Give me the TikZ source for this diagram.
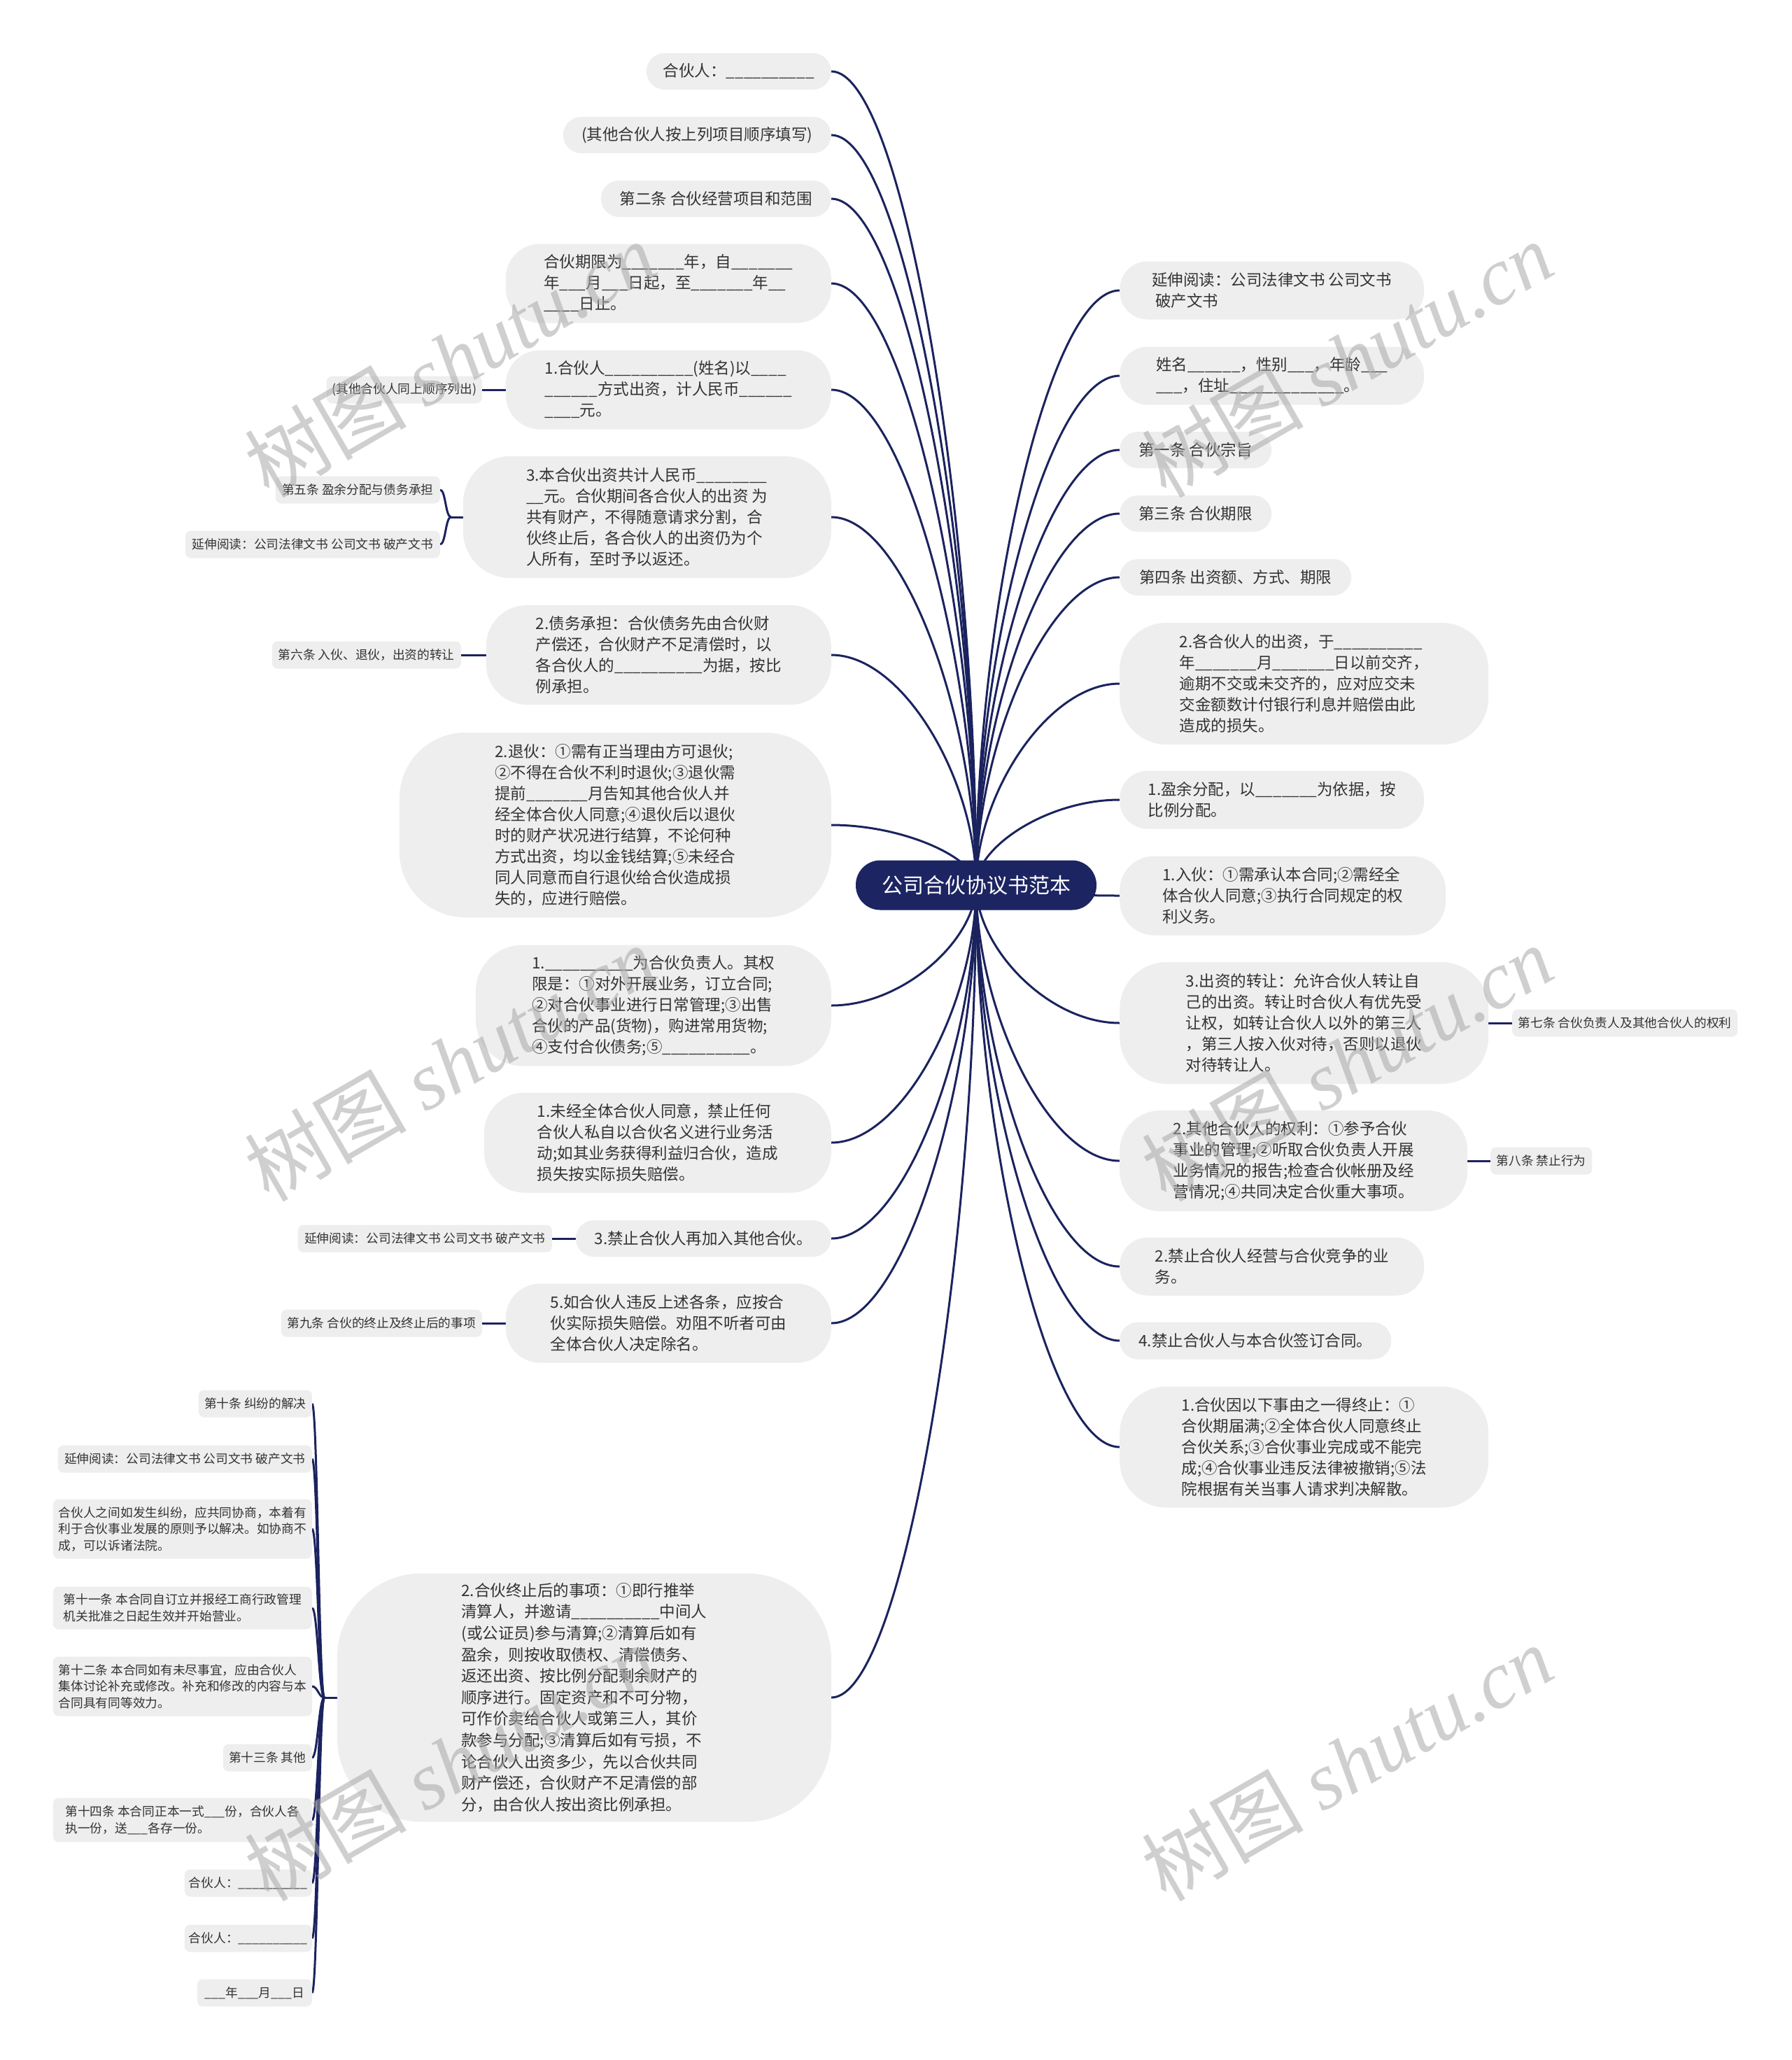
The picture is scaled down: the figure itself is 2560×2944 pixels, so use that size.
\documentclass[tikz,border=0pt]{standalone}
\usepackage{fontspec}
\setmainfont{Noto Sans CJK SC}
\newfontfamily\wmserif{Liberation Serif}
\usetikzlibrary{calc}
\pgfdeclarelayer{back}
\pgfdeclarelayer{bg}
\pgfdeclarelayer{fg}
\pgfsetlayers{back,bg,main,fg}
\definecolor{navy}{HTML}{1B235E}
\definecolor{rootfill}{HTML}{1C2462}
\definecolor{boxfill}{HTML}{EEEEEE}
\definecolor{txt}{HTML}{333333}
\definecolor{wmgray}{HTML}{A8A8A8}
\ExplSyntaxOn
\cs_new:Npn \ublank #1 {\prg_replicate:nn {#1}{\_}}
\ExplSyntaxOff
\newcommand\rootlink[1]{\draw[link] let \p1=(#1), \p2=(root.center) in (\p1) .. controls ({0.5*(\x1+\x2)},\y1) and (\x2,{\y1+0.55*(\y2-(\y1))}) .. (\p2);}
\newcommand\forklink[2]{\draw[link] (#1) .. controls ($(#1)+(-8,0)$) and ($(#2)+(8,0)$) .. (#2);}
\begin{document}
\begin{tikzpicture}[x=1pt,y=-1pt,
  mainbox/.style={fill=boxfill, text=txt, font=\fontsize{22.5}{30}\selectfont, align=left, inner sep=0pt},
  smallbox/.style={fill=boxfill, text=txt, font=\fontsize{17.7}{23.5}\selectfont, align=left, inner sep=0pt, rounded corners=8, minimum height=39},
  link/.style={draw=navy, line width=3pt},
  wm/.style={rotate=30, text=wmgray, opacity=0.55, inner sep=0pt, font=\fontsize{116}{116}\selectfont}]
\useasboundingbox (0,0) rectangle (2560,2944);
\begin{pgfonlayer}{back}
\fill[white] (0,0) rectangle (2560,2944);
\end{pgfonlayer}

% root
\node[fill=rootfill, text=white, font=\fontsize{30}{36}\selectfont, minimum width=344, minimum height=71, rounded corners=35, inner sep=0pt] (root) at (1395,1265) {公司合伙协议书范本};

% left main nodes
\node[mainbox, anchor=east, minimum width=264, minimum height=52, rounded corners=26] (L1) at (1188,102) {合伙人：\ublank{10}};
\node[mainbox, anchor=east, minimum width=383, minimum height=52, rounded corners=26] (L2) at (1188,193) {(其他合伙人按上列项目顺序填写)};
\node[mainbox, anchor=east, minimum width=329, minimum height=52, rounded corners=26] (L3) at (1188,284) {第二条 合伙经营项目和范围};
\node[mainbox, anchor=east, minimum width=465, minimum height=113, rounded corners=49] (L4) at (1188,405) {合伙期限为\ublank{7}年，自\ublank{7}\\年\ublank{3}月\ublank{3}日起，至\ublank{7}年\ublank{2}\\\ublank{4}日止。};
\node[mainbox, anchor=east, minimum width=465, minimum height=113, rounded corners=49] (L5) at (1188,557) {1.合伙人\ublank{10}(姓名)以\ublank{4}\\\ublank{6}方式出资，计人民币\ublank{6}\\\ublank{4}元。};
\node[mainbox, anchor=east, minimum width=526, minimum height=174, rounded corners=67] (L6) at (1188,739) {3.本合伙出资共计人民币\ublank{8}\\\ublank{2}元。合伙期间各合伙人的出资 为\\共有财产，不得随意请求分割，合\\伙终止后，各合伙人的出资仍为个\\人所有，至时予以返还。};
\node[mainbox, anchor=east, minimum width=493, minimum height=142, rounded corners=58] (L7) at (1188,936) {2.债务承担：合伙债务先由合伙财\\产偿还，合伙财产不足清偿时，以\\各合伙人的\ublank{10}为据，按比\\例承担。};
\node[mainbox, anchor=east, minimum width=617, minimum height=264, rounded corners=94] (L8) at (1188,1179) {2.退伙：①需有正当理由方可退伙;\\②不得在合伙不利时退伙;③退伙需\\提前\ublank{7}月告知其他合伙人并\\经全体合伙人同意;④退伙后以退伙\\时的财产状况进行结算，不论何种\\方式出资，均以金钱结算;⑤未经合\\同人同意而自行退伙给合伙造成损\\失的，应进行赔偿。};
\node[mainbox, anchor=east, minimum width=508, minimum height=173, rounded corners=67] (L9) at (1188,1437) {1.\ublank{10}为合伙负责人。其权\\限是：①对外开展业务，订立合同;\\②对合伙事业进行日常管理;③出售\\合伙的产品(货物)，购进常用货物;\\④支付合伙债务;⑤\ublank{10}。};
\node[mainbox, anchor=east, minimum width=496, minimum height=143, rounded corners=58] (L10) at (1188,1633) {1.未经全体合伙人同意，禁止任何\\合伙人私自以合伙名义进行业务活\\动;如其业务获得利益归合伙，造成\\损失按实际损失赔偿。};
\node[mainbox, anchor=east, minimum width=365, minimum height=52, rounded corners=26] (L11) at (1188,1770) {3.禁止合伙人再加入其他合伙。};
\node[mainbox, anchor=east, minimum width=465, minimum height=113, rounded corners=49] (L12) at (1188,1891) {5.如合伙人违反上述各条，应按合\\伙实际损失赔偿。劝阻不听者可由\\全体合伙人决定除名。};
\node[mainbox, anchor=east, minimum width=706, minimum height=355, rounded corners=121, font=\fontsize{22.5}{30.6}\selectfont] (L13) at (1188,2426) {2.合伙终止后的事项：①即行推举\\清算人，并邀请\ublank{10}中间人\\(或公证员)参与清算;②清算后如有\\盈余，则按收取债权、清偿债务、\\返还出资、按比例分配剩余财产的\\顺序进行。固定资产和不可分物，\\可作价卖给合伙人或第三人，其价\\款参与分配;③清算后如有亏损，不\\论合伙人出资多少，先以合伙共同\\财产偿还，合伙财产不足清偿的部\\分，由合伙人按出资比例承担。};

% right main nodes
\node[mainbox, anchor=west, minimum width=435, minimum height=83, rounded corners=40] (R1) at (1600,415) {延伸阅读：公司法律文书 公司文书\\\hspace*{5pt}破产文书};
\node[mainbox, anchor=west, minimum width=435, minimum height=83, rounded corners=40] (R2) at (1600,537) {姓名\ublank{6}，性别\ublank{3}，年龄\ublank{3}\\\ublank{3}，住址\ublank{13}。};
\node[mainbox, anchor=west, minimum width=217, minimum height=52, rounded corners=26] (R3) at (1600,643) {第一条 合伙宗旨};
\node[mainbox, anchor=west, minimum width=217, minimum height=52, rounded corners=26] (R4) at (1600,734) {第三条 合伙期限};
\node[mainbox, anchor=west, minimum width=331, minimum height=52, rounded corners=26] (R5) at (1600,825) {第四条 出资额、方式、期限};
\node[mainbox, anchor=west, minimum width=527, minimum height=174, rounded corners=67] (R6) at (1600,977) {2.各合伙人的出资，于\ublank{10}\\年\ublank{7}月\ublank{7}日以前交齐，\\逾期不交或未交齐的，应对应交未\\交金额数计付银行利息并赔偿由此\\造成的损失。};
\node[mainbox, anchor=west, minimum width=435, minimum height=83, rounded corners=40] (R7) at (1600,1143) {1.盈余分配，以\ublank{7}为依据，按\\比例分配。};
\node[mainbox, anchor=west, minimum width=466, minimum height=113, rounded corners=49] (R8) at (1600,1280) {1.入伙：①需承认本合同;②需经全\\体合伙人同意;③执行合同规定的权\\利义务。};
\node[mainbox, anchor=west, minimum width=527, minimum height=174, rounded corners=67] (R9) at (1600,1462) {3.出资的转让：允许合伙人转让自\\己的出资。转让时合伙人有优先受\\让权，如转让合伙人以外的第三人\\，第三人按入伙对待，否则以退伙\\对待转让人。};
\node[mainbox, anchor=west, minimum width=497, minimum height=144, rounded corners=58] (R10) at (1600,1659) {2.其他合伙人的权利：①参予合伙\\事业的管理;②听取合伙负责人开展\\业务情况的报告;检查合伙帐册及经\\营情况;④共同决定合伙重大事项。};
\node[mainbox, anchor=west, minimum width=435, minimum height=83, rounded corners=40] (R11) at (1600,1810) {2.禁止合伙人经营与合伙竞争的业\\务。};
\node[mainbox, anchor=west, minimum width=388, minimum height=53, rounded corners=26] (R12) at (1600,1916) {4.禁止合伙人与本合伙签订合同。};
\node[mainbox, anchor=west, minimum width=527, minimum height=173, rounded corners=67] (R13) at (1600,2068) {1.合伙因以下事由之一得终止：①\\合伙期届满;②全体合伙人同意终止\\合伙关系;③合伙事业完成或不能完\\成;④合伙事业违反法律被撤销;⑤法\\院根据有关当事人请求判决解散。};

% small leaves
\node[smallbox, anchor=east, minimum width=222] (S5) at (689,557) {(其他合伙人同上顺序列出)};
\node[smallbox, anchor=east, minimum width=235] (S6a) at (629,700) {第五条 盈余分配与债务承担};
\node[smallbox, anchor=east, minimum width=364] (S6b) at (629,778) {延伸阅读：公司法律文书 公司文书 破产文书};
\node[smallbox, anchor=east, minimum width=270] (S7) at (659,936) {第六条 入伙、退伙，出资的转让};
\node[smallbox, anchor=east, minimum width=363] (S11) at (789,1770) {延伸阅读：公司法律文书 公司文书 破产文书};
\node[smallbox, anchor=east, minimum width=287] (S12) at (689,1891) {第九条 合伙的终止及终止后的事项};
\node[smallbox, anchor=west, minimum width=322] (S9r) at (2161,1462) {第七条 合伙负责人及其他合伙人的权利};
\node[smallbox, anchor=west, minimum width=145] (S10r) at (2130,1659) {第八条 禁止行为};

\node[smallbox, anchor=east, minimum width=162] (C1) at (446,2006) {第十条 纠纷的解决};
\node[smallbox, anchor=east, minimum width=363] (C2) at (446,2085) {延伸阅读：公司法律文书 公司文书 破产文书};
\node[smallbox, anchor=east, minimum width=370, minimum height=85] (C3) at (446,2185) {合伙人之间如发生纠纷，应共同协商，本着有\\利于合伙事业发展的原则予以解决。如协商不\\成，可以诉诸法院。};
\node[smallbox, anchor=east, minimum width=370, minimum height=61] (C4) at (446,2298) {第十一条 本合同自订立并报经工商行政管理\\机关批准之日起生效并开始营业。};
\node[smallbox, anchor=east, minimum width=370, minimum height=85] (C5) at (446,2410) {第十二条 本合同如有未尽事宜，应由合伙人\\集体讨论补充或修改。补充和修改的内容与本\\合同具有同等效力。};
\node[smallbox, anchor=east, minimum width=127] (C6) at (446,2512) {第十三条 其他};
\node[smallbox, anchor=east, minimum width=370, minimum height=63] (C7) at (446,2601) {第十四条 本合同正本一式\ublank{3}份，合伙人各\\执一份，送\ublank{3}各存一份。};
\node[smallbox, anchor=east, minimum width=182] (C8) at (446,2691) {合伙人：\ublank{10}};
\node[smallbox, anchor=east, minimum width=182] (C9) at (446,2770) {合伙人：\ublank{10}};
\node[smallbox, anchor=east, minimum width=164] (C10) at (446,2848) {\ublank{3}年\ublank{3}月\ublank{3}日};

% connectors
\begin{pgfonlayer}{bg}
\foreach \nd in {L1,L2,L3,L4,L5,L6,L7,L8,L9,L10,L11,L12,L13} {\rootlink{\nd.east}}
\foreach \nd in {R1,R2,R3,R4,R5,R6,R7,R8,R9,R10,R11,R12,R13} {\rootlink{\nd.west}}
\draw[link] (L5.west) -- (S5.east);
\draw[link] (L7.west) -- (S7.east);
\draw[link] (L11.west) -- (S11.east);
\draw[link] (L12.west) -- (S12.east);
\draw[link] (R9.east) -- (S9r.west);
\draw[link] (R10.east) -- (S10r.west);
\coordinate (F6) at ($(L6.west)+(-17,0)$);
\draw[link] (L6.west) -- (F6);
\forklink{F6}{S6a.east}
\forklink{F6}{S6b.east}
\coordinate (F13) at ($(L13.west)+(-18,0)$);
\draw[link] (L13.west) -- (F13);
\foreach \cd in {C1,C2,C3,C4,C5,C6,C7,C8,C9,C10} {\forklink{F13}{\cd.east}}
\end{pgfonlayer}

% watermarks
\begin{pgfonlayer}{fg}
\foreach \px/\py in {643/513, 1925/513, 643/1519, 1925/1519, 643/2519, 1925/2519}
  \node[wm] at (\px,\py) {树图 {\wmserif\itshape shutu.cn}};
\end{pgfonlayer}
\end{tikzpicture}
\end{document}
